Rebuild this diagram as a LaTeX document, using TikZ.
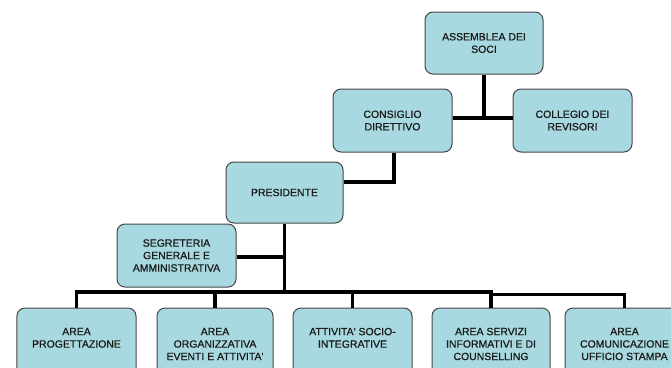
\documentclass[tikz,border=0pt]{standalone}
\usepackage{fontspec}
\setmainfont{Liberation Sans}
\newfontfamily\boxfont{Liberation Sans}[FakeBold=0.7]
\definecolor{boxfill}{RGB}{168,217,224}
\definecolor{boxline}{RGB}{70,70,70}
\definecolor{boxtext}{RGB}{25,25,25}
\begin{document}
\begin{tikzpicture}[x=1bp,y=-1bp,
  box/.style={draw=boxline, line width=1bp, fill=boxfill, rounded corners=8bp,
    align=center, inner sep=0pt, text=boxtext, font=\boxfont\fontsize{10.5}{12.5}\selectfont},
  upbox/.style={box, minimum width=118bp, minimum height=62bp},
  lowbox/.style={box, minimum width=118bp, minimum height=72bp},
  conn/.style={draw=black, line width=3.5bp}]
\useasboundingbox (0,0) rectangle (671,367);
\clip (0,0) rectangle (671,367);
% upper boxes
\node[upbox] (ass) at (484,43) {ASSEMBLEA DEI\\SOCI};
\node[upbox, minimum width=119bp, minimum height=63bp] (cons) at (392.5,120.5) {CONSIGLIO\\DIRETTIVO};
\node[upbox, minimum width=119bp, minimum height=63bp] (coll) at (572.5,120.5) {COLLEGIO DEI\\REVISORI};
\node[upbox, minimum width=117bp, minimum height=61bp] (pres) at (284.5,192.5) {\raisebox{-3bp}{PRESIDENTE}};
\node[upbox, minimum width=119bp, minimum height=63bp] (seg) at (176.5,255.5) {SEGRETERIA\\GENERALE E\\AMMINISTRATIVA};
% lower boxes
\node[lowbox, minimum width=119bp] (a1) at (76.5,344) {AREA\\PROGETTAZIONE\\~};
\node[lowbox, minimum width=116bp] (a2) at (215,344) {AREA\\ORGANIZZATIVA\\EVENTI E ATTIVITA'};
\node[lowbox, minimum width=119bp] (a3) at (352.5,344) {ATTIVITA' SOCIO-\\INTEGRATIVE\\~};
\node[lowbox, minimum width=118bp] (a4) at (491,344) {AREA SERVIZI\\INFORMATIVI E DI\\COUNSELLING};
\node[lowbox, minimum width=119bp] (a5) at (624.5,344) {AREA\\COMUNICAZIONE\\UFFICIO STAMPA};
% junctions
\coordinate (j1) at (484,118);
\coordinate (j2) at (394,182);
\coordinate (j3) at (285,257);
\coordinate (bus) at (285,292);
\coordinate (bus2) at (491,294.5);
% connectors
\draw[conn] (ass) -- (ass |- j1);
\draw[conn] (cons.east |- j1) -- (coll.west |- j1);
\draw[conn] (cons.south -| j2) -- (j2) -- (pres.east |- j2);
\draw[conn] (pres) -- (pres |- bus);
\draw[conn] (seg.east |- j3) -- (j3);
\draw[conn] (a1) -- (a1 |- bus) -- (a4 |- bus) -- (a4);
\draw[conn] (a2) -- (a2 |- bus);
\draw[conn] (a3) -- (a3 |- bus);
\draw[conn, line width=2.5bp] (a4 |- bus2) -- (a5 |- bus2) -- (a5);
\end{tikzpicture}
\end{document}
